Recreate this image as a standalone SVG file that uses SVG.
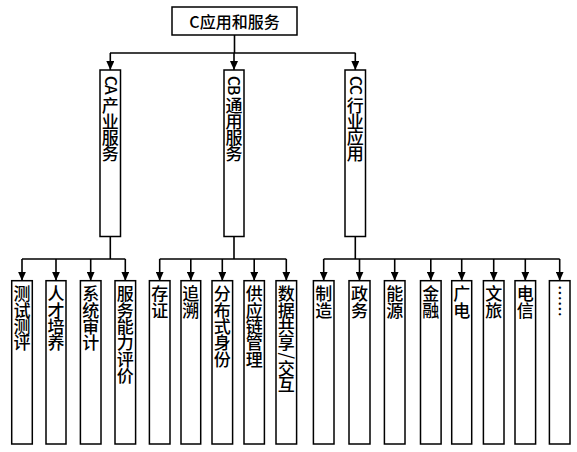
<svg xmlns="http://www.w3.org/2000/svg" width="577" height="452" viewBox="0 0 577 452">
<defs>
<marker id="arr" markerUnits="userSpaceOnUse" markerWidth="9" markerHeight="8" viewBox="0 0 9 8" refX="9" refY="4" orient="auto">
<path d="M0,0 L9,4 L0,8 Z" fill="#000"/>
</marker>
<style>
rect{fill:#fff;stroke:#000;stroke-width:1.5}
.c line,.c path{stroke:#000;stroke-width:1.6;fill:none}
text{font-family:"Noto Sans CJK SC","Liberation Sans",sans-serif;font-size:17px;font-weight:500;fill:#000}
.lat{font-size:15.5px}
</style>
</defs>
<rect width="577" height="452" style="fill:#fff;stroke:none"/>
<g class="c" id="connectors">
<line x1="234.5" y1="35" x2="234.5" y2="53"/>
<line x1="110" y1="53" x2="355.5" y2="53"/>
<path d="M110.3,53 V70" marker-end="url(#arr)"/>
<path d="M234,53 V70" marker-end="url(#arr)"/>
<path d="M355.3,53 V70" marker-end="url(#arr)"/>
<line x1="110.3" y1="236.5" x2="110.3" y2="259"/>
<line x1="22" y1="259" x2="125.3" y2="259"/>
<path d="M22,259 V280.7" marker-end="url(#arr)"/>
<path d="M56,259 V280.7" marker-end="url(#arr)"/>
<path d="M90.7,259 V280.7" marker-end="url(#arr)"/>
<path d="M125.3,259 V280.7" marker-end="url(#arr)"/>
<line x1="234" y1="236.5" x2="234" y2="259"/>
<line x1="159.7" y1="259" x2="286.3" y2="259"/>
<path d="M159.7,259 V280.7" marker-end="url(#arr)"/>
<path d="M190.8,259 V280.7" marker-end="url(#arr)"/>
<path d="M222.3,259 V280.7" marker-end="url(#arr)"/>
<path d="M254.2,259 V280.7" marker-end="url(#arr)"/>
<path d="M286.3,259 V280.7" marker-end="url(#arr)"/>
<line x1="355.3" y1="236.5" x2="355.3" y2="259"/>
<line x1="323.7" y1="259" x2="559.7" y2="259"/>
<path d="M323.7,259 V280.7" marker-end="url(#arr)"/>
<path d="M359.5,259 V280.7" marker-end="url(#arr)"/>
<path d="M394.7,259 V280.7" marker-end="url(#arr)"/>
<path d="M430.8,259 V280.7" marker-end="url(#arr)"/>
<path d="M461.7,259 V280.7" marker-end="url(#arr)"/>
<path d="M493.7,259 V280.7" marker-end="url(#arr)"/>
<path d="M525.3,259 V280.7" marker-end="url(#arr)"/>
<path d="M559.7,259 V280.7" marker-end="url(#arr)"/>
</g>
<g id="root"><rect x="172" y="7" width="125" height="28"/><text x="234.5" y="27.8" text-anchor="middle" style="font-size:16px">C应用和服务</text></g>
<g id="CA"><rect x="100" y="70" width="20.5" height="166.5"/><text><tspan class="lat" x="104.6 104.6" y="76 85" rotate="90">CA</tspan><tspan x="101.8 101.8 101.8 101.8" y="111.5 127.8 144.1 160.4">产业服务</tspan></text></g>
<g id="CB"><rect x="224" y="70" width="20" height="166.5"/><text><tspan class="lat" x="228.3 228.3" y="76 85" rotate="90">CB</tspan><tspan x="225.5 225.5 225.5 225.5" y="111.5 127.8 144.1 160.4">通用服务</tspan></text></g>
<g id="CC"><rect x="345" y="70" width="20.5" height="166.5"/><text><tspan class="lat" x="349.6 349.6" y="76 85" rotate="90">CC</tspan><tspan x="346.8 346.8 346.8 346.8" y="111.5 127.8 144.1 160.4">行业应用</tspan></text></g>
<g id="CA1"><rect x="11.7" y="280.7" width="20.6" height="163.3"/><text x="13.5 13.5 13.5 13.5" y="300.4 316.7 333 349.3">测试测评</text></g>
<g id="CA2"><rect x="46" y="280.7" width="20" height="163.3"/><text x="47.5 47.5 47.5 47.5" y="300.4 316.7 333 349.3">人才培养</text></g>
<g id="CA3"><rect x="80.4" y="280.7" width="20.6" height="163.3"/><text x="82.2 82.2 82.2 82.2" y="300.4 316.7 333 349.3">系统审计</text></g>
<g id="CA4"><rect x="115" y="280.7" width="20.6" height="163.3"/><text x="116.8 116.8 116.8 116.8 116.8 116.8" y="300.4 316.7 333 349.3 365.6 381.9">服务能力评价</text></g>
<g id="CB1"><rect x="149.4" y="280.7" width="20.6" height="163.3"/><text x="151.2 151.2" y="300.4 316.7">存证</text></g>
<g id="CB2"><rect x="181" y="280.7" width="19.7" height="163.3"/><text x="182.3 182.3" y="300.4 316.7">追溯</text></g>
<g id="CB3"><rect x="212" y="280.7" width="20.6" height="163.3"/><text x="213.8 213.8 213.8 213.8 213.8" y="300.4 316.7 333 349.3 365.6">分布式身份</text></g>
<g id="CB4"><rect x="244" y="280.7" width="20.4" height="163.3"/><text x="245.7 245.7 245.7 245.7 245.7" y="300.4 316.7 333 349.3 365.6">供应链管理</text></g>
<g id="CB5"><rect x="276" y="280.7" width="20.6" height="163.3"/><text x="277.8 277.8 277.8 277.8" y="300.4 316.7 333 349.3">数据共享<tspan x="280.8" y="352.5" rotate="90">/</tspan><tspan x="277.8 277.8" y="374.8 391.1">交互</tspan></text></g>
<g id="CC1"><rect x="313.4" y="280.7" width="20.6" height="163.3"/><text x="315.2 315.2" y="300.4 316.7">制造</text></g>
<g id="CC2"><rect x="349" y="280.7" width="21" height="163.3"/><text x="351 351" y="300.4 316.7">政务</text></g>
<g id="CC3"><rect x="384.4" y="280.7" width="20.6" height="163.3"/><text x="386.2 386.2" y="300.4 316.7">能源</text></g>
<g id="CC4"><rect x="420.5" y="280.7" width="20.6" height="163.3"/><text x="422.3 422.3" y="300.4 316.7">金融</text></g>
<g id="CC5"><rect x="451.7" y="280.7" width="20" height="163.3"/><text x="453.2 453.2" y="300.4 316.7">广电</text></g>
<g id="CC6"><rect x="483.4" y="280.7" width="20.6" height="163.3"/><text x="485.2 485.2" y="300.4 316.7">文旅</text></g>
<g id="CC7"><rect x="515" y="280.7" width="20.6" height="163.3"/><text x="516.8 516.8" y="300.4 316.7">电信</text></g>
<g id="CC8"><rect x="549.4" y="280.7" width="20.6" height="163.3"/><text x="553.6 553.6" y="285 301" rotate="90" style="font-size:16px">……</text></g>
</svg>
